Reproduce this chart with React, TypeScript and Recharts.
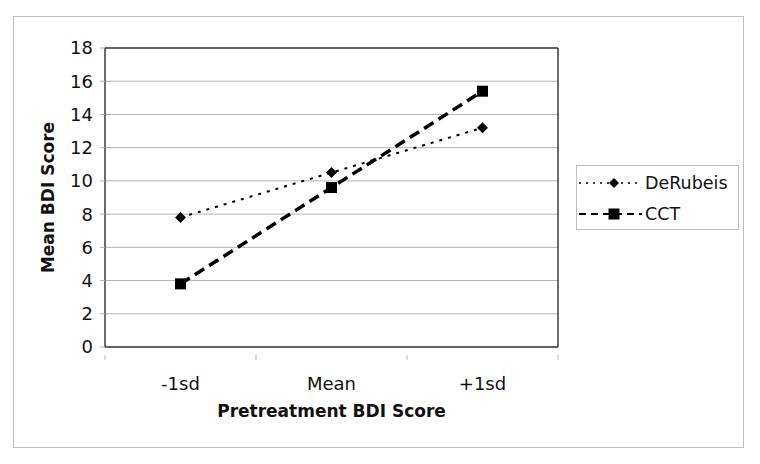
import React from "react";
import {
  LineChart,
  Line,
  XAxis,
  YAxis,
  CartesianGrid,
  ReferenceLine,
} from "recharts";

const categories = ["-1sd", "Mean", "+1sd"];
const deRubeis = [7.8, 10.5, 13.2];
const cct = [3.8, 9.6, 15.4];
const yTicks = [0, 2, 4, 6, 8, 10, 12, 14, 16, 18];

const FONT = "'DejaVu Sans', Verdana, sans-serif";
const FRAME = "#3a3a3a";
const GRID = "#b4b4b4";

// categories sit in the middle of each band, band edges get the tick marks
const data = categories.map((c, i) => ({
  x: i + 0.5,
  name: c,
  DeRubeis: deRubeis[i],
  CCT: cct[i],
}));
const xTicks = [0, 0.5, 1, 1.5, 2, 2.5, 3];

function XTick(props: any) {
  const { x, y, payload } = props;
  const v = payload.value as number;
  if (Number.isInteger(v)) {
    return <line x1={x} x2={x} y1={y} y2={y + 5} stroke={GRID} strokeWidth={1} />;
  }
  return (
    <text x={x} y={y + 35} textAnchor="middle" fontSize={18} fontFamily={FONT} fill="#111">
      {categories[Math.floor(v)]}
    </text>
  );
}

function Diamond(props: any) {
  const { cx, cy, index } = props;
  const r = 5.5;
  return (
    <path
      key={"d" + index}
      d={`M${cx},${cy - r}L${cx + r},${cy}L${cx},${cy + r}L${cx - r},${cy}Z`}
      fill="#000"
    />
  );
}

function Square(props: any) {
  const { cx, cy, index } = props;
  const s = 11;
  return <rect key={"s" + index} x={cx - s / 2} y={cy - s / 2} width={s} height={s} fill="#000" />;
}

function LegendBox() {
  const row = (label: string, dash: string, w: number, marker: React.ReactNode) => (
    <div style={{ display: "flex", alignItems: "center", height: 31 }}>
      <svg width={67} height={20} style={{ marginLeft: 1 }}>
        <line x1={1} x2={64} y1={10} y2={10} stroke="#000" strokeWidth={w} strokeDasharray={dash} />
        {marker}
      </svg>
      <span style={{ fontSize: 17.5, fontFamily: FONT, color: "#111" }}>{label}</span>
    </div>
  );
  return (
    <div
      style={{
        position: "absolute",
        left: 576,
        top: 165,
        border: "1px solid #bdbdbd",
        width: 163,
        height: 65,
        boxSizing: "border-box",
        paddingTop: 1,
        background: "#fff",
      }}
    >
      {row("DeRubeis", "2 5", 1.5, <path d="M36,5L41,10L36,15L31,10Z" fill="#000" />)}
      {row("CCT", "7 5", 2, <rect x={30.5} y={4.5} width={11} height={11} fill="#000" />)}
    </div>
  );
}

export default function App() {
  return (
    <div style={{ position: "absolute", left: 0, top: 0, width: 760, height: 464, background: "#fff" }}>
      <div
        style={{
          position: "absolute",
          left: 13,
          top: 16,
          width: 731,
          height: 432,
          border: "1px solid #bdbdbd",
          boxSizing: "border-box",
        }}
      />
      <div style={{ position: "absolute", left: 0, top: 0 }}>
        <LineChart
          width={760}
          height={464}
          data={data}
          margin={{ top: 48, right: 202, bottom: 37, left: 20 }}
        >
          <CartesianGrid vertical={false} stroke={GRID} strokeWidth={1} />
          <XAxis
            dataKey="x"
            type="number"
            domain={[0, 3]}
            ticks={xTicks}
            interval={0}
            height={80}
            axisLine={{ stroke: FRAME, strokeWidth: 1.5 }}
            tickLine={false}
            tick={<XTick />}
            label={{
              value: "Pretreatment BDI Score",
              position: "insideBottom",
              offset: 10,
              fontSize: 17,
              fontWeight: "bold",
              fontFamily: FONT,
              fill: "#111",
            }}
          />
          <YAxis
            domain={[0, 18]}
            ticks={yTicks}
            interval={0}
            width={85}
            axisLine={{ stroke: FRAME, strokeWidth: 1.5 }}
            tickLine={{ stroke: GRID }}
            tickSize={5}
            tick={{ fontSize: 18, fontFamily: FONT, fill: "#111" }}
            tickMargin={7}
            label={{
              value: "Mean BDI Score",
              angle: -90,
              position: "center",
              dx: -15,
              fontSize: 17,
              fontWeight: "bold",
              fontFamily: FONT,
              fill: "#111",
            }}
          />
          <ReferenceLine y={18} stroke={FRAME} strokeWidth={1.5} />
          <ReferenceLine x={3} stroke={FRAME} strokeWidth={1.5} />
          <Line
            dataKey="DeRubeis"
            stroke="#000"
            strokeWidth={2}
            strokeDasharray="3 6"
            dot={<Diamond />}
            activeDot={false}
            isAnimationActive={false}
          />
          <Line
            dataKey="CCT"
            stroke="#000"
            strokeWidth={3.5}
            strokeDasharray="11 6"
            dot={<Square />}
            activeDot={false}
            isAnimationActive={false}
          />
        </LineChart>
      </div>
      <LegendBox />
    </div>
  );
}
